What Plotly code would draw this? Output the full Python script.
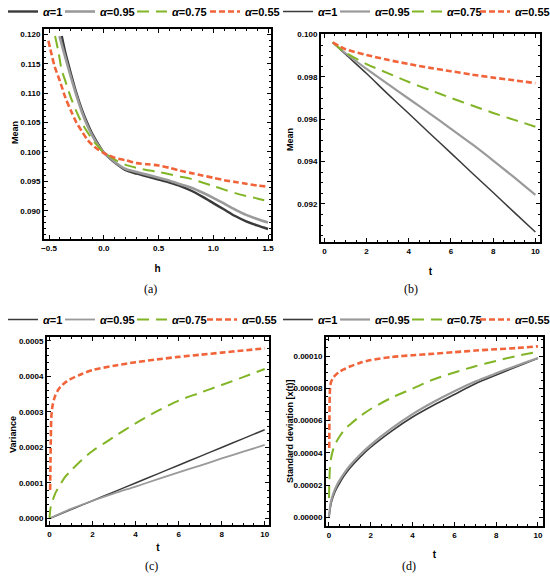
import plotly.graph_objects as go

# ---------------- data ----------------
labels = ["α=1", "α=0.95", "α=0.75", "α=0.55"]

# (a) Mean vs h
a_h1 = [-0.384, -0.35, -0.30, -0.25, -0.20, -0.15, -0.10, -0.05, 0.0, 0.05, 0.10, 0.20, 0.30, 0.40, 0.50, 0.60, 0.70, 0.80, 0.90, 1.00, 1.10, 1.20, 1.30, 1.40, 1.50]
a_m1 = [0.1197, 0.1168, 0.1133, 0.1100, 0.1072, 0.1049, 0.1029, 0.1013, 0.0999, 0.0990, 0.0982, 0.0969, 0.0963, 0.0958, 0.0953, 0.0948, 0.0942, 0.0934, 0.0924, 0.0913, 0.0902, 0.0891, 0.0882, 0.0875, 0.0869]
a_h2 = [-0.405, -0.35, -0.30, -0.25, -0.20, -0.15, -0.10, -0.05, 0.0, 0.05, 0.10, 0.20, 0.30, 0.40, 0.50, 0.60, 0.70, 0.80, 0.90, 1.00, 1.10, 1.20, 1.30, 1.40, 1.50]
a_m2 = [0.1197, 0.1160, 0.1127, 0.1096, 0.1068, 0.1045, 0.1026, 0.1011, 0.0999, 0.0991, 0.0983, 0.0971, 0.0966, 0.0961, 0.0956, 0.0951, 0.0945, 0.0939, 0.0931, 0.0922, 0.0912, 0.0902, 0.0893, 0.0886, 0.0880]
a_h3 = [-0.445, -0.415, -0.384, -0.35, -0.30, -0.25, -0.20, -0.15, -0.10, -0.05, 0.0, 0.05, 0.10, 0.20, 0.30, 0.40, 0.50, 0.60, 0.70, 0.80, 0.90, 1.00, 1.10, 1.20, 1.30, 1.40, 1.50]
a_m3 = [0.1197, 0.1171, 0.1139, 0.1120, 0.1092, 0.1069, 0.1049, 0.1034, 0.1020, 0.1009, 0.0999, 0.0993, 0.0987, 0.0978, 0.0973, 0.0969, 0.0966, 0.0962, 0.0958, 0.0954, 0.0948, 0.0942, 0.0936, 0.0930, 0.0925, 0.0921, 0.0916]
a_h4 = [-0.506, -0.476, -0.45, -0.40, -0.35, -0.30, -0.25, -0.20, -0.15, -0.10, -0.05, 0.0, 0.05, 0.10, 0.20, 0.30, 0.40, 0.50, 0.60, 0.70, 0.80, 0.90, 1.00, 1.10, 1.20, 1.30, 1.40, 1.50]
a_m4 = [0.1189, 0.1165, 0.1146, 0.1120, 0.1092, 0.1070, 0.1050, 0.1035, 0.1021, 0.1011, 0.1004, 0.0998, 0.0994, 0.0990, 0.0986, 0.0981, 0.0979, 0.0977, 0.0973, 0.0968, 0.0964, 0.0960, 0.0956, 0.0952, 0.0949, 0.0946, 0.0943, 0.0941]

# (b) Mean vs t
b_t = [0.4, 1, 2, 3, 4, 5, 6, 7, 8, 9, 10]
b_m1 = [0.09963, 0.09907, 0.09816, 0.09720, 0.09627, 0.09533, 0.09440, 0.09346, 0.09254, 0.09160, 0.09067]
b_m2 = [0.09963, 0.09912, 0.09838, 0.09767, 0.09697, 0.09627, 0.09555, 0.09482, 0.09405, 0.09325, 0.09243]
b_m3 = [0.09963, 0.09915, 0.09861, 0.09818, 0.09776, 0.09738, 0.09701, 0.09665, 0.09630, 0.09597, 0.09565]
b_m4 = [0.09963, 0.09931, 0.09904, 0.09881, 0.09861, 0.09843, 0.09827, 0.09811, 0.09797, 0.09784, 0.09771]

# (c) Variance vs t
c_t1 = [0, 1, 2, 3, 4, 5, 6, 7, 8, 9, 10]
c_v1 = [0, 0.000025, 0.000050, 0.000075, 0.000100, 0.000125, 0.000150, 0.000175, 0.000200, 0.000225, 0.000250]
c_v2 = [0, 0.000027, 0.000050, 0.000071, 0.000090, 0.000110, 0.000130, 0.000149, 0.000169, 0.000188, 0.000207]
c_t3 = [0, 0.05, 0.1, 0.2, 0.3, 0.5, 0.7, 1.0, 1.5, 2, 2.5, 3, 4, 5, 6, 7, 8, 9, 10]
c_v3 = [0, 0.000030, 0.000040, 0.000060, 0.000075, 0.000095, 0.000115, 0.000135, 0.000165, 0.000190, 0.000210, 0.000230, 0.000268, 0.000302, 0.000332, 0.000354, 0.000376, 0.000398, 0.000421]
c_t4 = [0.03, 0.06, 0.09, 0.15, 0.25, 0.4, 0.6, 0.8, 1.0, 1.5, 2, 3, 4, 5, 6, 7, 8, 9, 10]
c_v4 = [0.000080, 0.000220, 0.000290, 0.000320, 0.000343, 0.000362, 0.000376, 0.000386, 0.000393, 0.000407, 0.000418, 0.000430, 0.000440, 0.000448, 0.000455, 0.000461, 0.000467, 0.000473, 0.000479]

# (d) Standard deviation vs t
d_t1 = [0, 0.05, 0.1, 0.2, 0.35, 0.5, 0.75, 1, 1.5, 2, 3, 4, 5, 6, 7, 8, 9, 10]
d_s1 = [0, 0.0000045, 0.0000085, 0.0000129, 0.0000175, 0.0000210, 0.0000262, 0.0000305, 0.0000375, 0.0000435, 0.0000535, 0.0000622, 0.0000695, 0.0000762, 0.0000828, 0.0000882, 0.0000935, 0.0000986]
d_s2 = [0, 0.0000060, 0.0000100, 0.0000145, 0.0000192, 0.0000228, 0.0000278, 0.0000320, 0.0000390, 0.0000450, 0.0000552, 0.0000640, 0.0000715, 0.0000782, 0.0000842, 0.0000893, 0.0000942, 0.0000988]
d_t3 = [0.005, 0.02, 0.05, 0.1, 0.2, 0.3, 0.5, 0.75, 1, 1.5, 2, 3, 4, 5, 6, 7, 8, 9, 10]
d_s3 = [0.000012, 0.000022, 0.000031, 0.0000365, 0.000042, 0.0000455, 0.000050, 0.0000545, 0.0000575, 0.0000628, 0.0000672, 0.0000742, 0.0000798, 0.0000855, 0.0000898, 0.0000937, 0.0000970, 0.0001001, 0.0001027]
d_t4 = [0.015, 0.025, 0.04, 0.06, 0.1, 0.2, 0.3, 0.5, 0.75, 1, 1.5, 2, 3, 4, 5, 6, 7, 8, 9, 10]
d_s4 = [0.000043, 0.000062, 0.000076, 0.000081, 0.0000838, 0.0000865, 0.000088, 0.0000903, 0.000092, 0.0000935, 0.0000958, 0.0000975, 0.0000994, 0.0001005, 0.0001014, 0.0001024, 0.0001034, 0.0001042, 0.000105, 0.000106]

# ---------------- styling ----------------
W, H = 550, 584
colors = ["#3a3a3a", "#9a9a9a", "#82b526", "#f1643a"]
dashes = ["solid", "solid", "12px,7px", "6px,3px"]
FONT = "Liberation Sans Narrow, Liberation Sans, Arial, sans-serif"
LEG_TEXT_OFFSET = 40  # px from legend left edge to its text

def px(x):
    return x / W

def py(y):
    return 1 - y / H

fig = go.Figure()

panels = [
    dict(data=[(a_h1, a_m1), (a_h2, a_m2), (a_h3, a_m3), (a_h4, a_m4)], widths=[2.4, 2.6, 2.0, 2.6],
         text_x=[43, 100, 172, 245], leg_top=-3),
    dict(data=[(b_t, b_m1), (b_t, b_m2), (b_t, b_m3), (b_t, b_m4)], widths=[1.5, 2.2, 2.0, 2.6],
         text_x=[318, 375, 447, 515], leg_top=-3),
    dict(data=[(c_t1, c_v1), (c_t1, c_v2), (c_t3, c_v3), (c_t4, c_v4)], widths=[1.5, 1.8, 2.0, 2.6],
         text_x=[43, 100, 172, 242], leg_top=305),
    dict(data=[(d_t1, d_s1), (d_t1, d_s2), (d_t3, d_s3), (d_t4, d_s4)], widths=[1.6, 2.2, 2.0, 2.6],
         text_x=[318, 375, 447, 515], leg_top=305),
]

legends = {}
li = 0
for i, p in enumerate(panels):
    n = "" if i == 0 else str(i + 1)
    for k, (xs, ys) in enumerate(p["data"]):
        li += 1
        lname = "legend" if li == 1 else "legend" + str(li)
        fig.add_trace(go.Scatter(
            x=xs, y=ys, mode="lines", line_shape="spline", line_smoothing=0.8,
            line=dict(color=colors[k], width=p["widths"][k], dash=dashes[k]),
            name="<b><i>α</i>" + labels[k][1:] + "</b>",
            xaxis="x" + n, yaxis="y" + n, legend=lname,
        ))
        legends[lname] = dict(
            orientation="h", x=px(p["text_x"][k] - LEG_TEXT_OFFSET), y=py(p["leg_top"]),
            xref="paper", yref="paper", xanchor="left", yanchor="top",
            bgcolor="rgba(0,0,0,0)", borderwidth=0, itemwidth=30,
            font=dict(family=FONT, size=11, color="black"),
        )

def axis(domain, rng, dtick, tick0, fmt, minor, title, anchor, standoff):
    return dict(
        domain=domain, range=rng, dtick=dtick, tick0=tick0, tickformat=fmt,
        anchor=anchor, showgrid=False, zeroline=False,
        showline=True, linecolor="black", linewidth=2, mirror="allticks",
        ticks="inside", ticklen=4, tickwidth=1, tickcolor="black",
        minor=dict(dtick=minor, ticks="inside", ticklen=2, tickwidth=1, tickcolor="black", showgrid=False),
        tickfont=dict(family=FONT, size=8, color="black", weight="bold"),
        title=dict(text=title, font=dict(family=FONT, size=10, color="black", weight="bold"), standoff=standoff),
    )

layout = dict(
    width=W, height=H, margin=dict(l=0, r=0, t=0, b=0, autoexpand=False),
    paper_bgcolor="white", plot_bgcolor="white", showlegend=True,
    xaxis=axis([px(44), px(271)], [-0.546, 1.527], 0.5, -0.5, ".1f", 0.1, "h", "y", 13),
    yaxis=axis([py(239), py(29)], [0.0852, 0.1209], 0.005, 0.09, ".3f", 0.001, "", "x", 4),
    xaxis2=axis([px(321), px(540)], [-0.16, 10.22], 2, 0, "d", 0.5, "t", "y2", 13),
    yaxis2=axis([py(242), py(34)], [0.0902, 0.10003], 0.002, 0.092, ".3f", 0.0005, "", "x2", 4),
    xaxis3=axis([px(47), px(269)], [-0.116, 10.2], 2, 0, "d", 0.5, "t", "y3", 6),
    yaxis3=axis([py(525), py(337)], [-0.0000183, 0.000511], 0.0001, 0, ".4f", 0.00002, "", "x3", 4),
    xaxis4=axis([px(326), px(543)], [-0.14, 10.24], 2, 0, "d", 0.5, "t", "y4", 12),
    yaxis4=axis([py(526), py(337)], [-0.0000053, 0.0001118], 0.00002, 0, ".5f", 0.000005, "", "x4", 3),
)
layout.update(legends)

TFONT = dict(family=FONT, size=9, color="black", weight="bold")
ytitles = [("Mean", 15, 133), ("Mean", 290, 140), ("Variance", 13, 435), ("Standard deviation [x(t)]", 290, 431)]
caps = [("(a)", 142, 289), ("(b)", 420, 289), ("(c)", 143, 575), ("(d)", 418, 575)]
annotations = [
    dict(text=t, x=px(x), y=py(y), xref="paper", yref="paper", showarrow=False, textangle=-90,
         xanchor="center", yanchor="middle", font=TFONT)
    for t, x, y in ytitles
]
annotations += [
    dict(text=t, x=px(x), y=py(y), xref="paper", yref="paper", showarrow=False,
         font=dict(family="Liberation Serif, Times New Roman, serif", size=12, color="black"))
    for t, x, y in caps
]
layout["annotations"] = annotations

fig.update_layout(**layout)
fig.write_html("out.html", config={"displayModeBar": False},
               post_script="document.body.style.margin='0px';")
